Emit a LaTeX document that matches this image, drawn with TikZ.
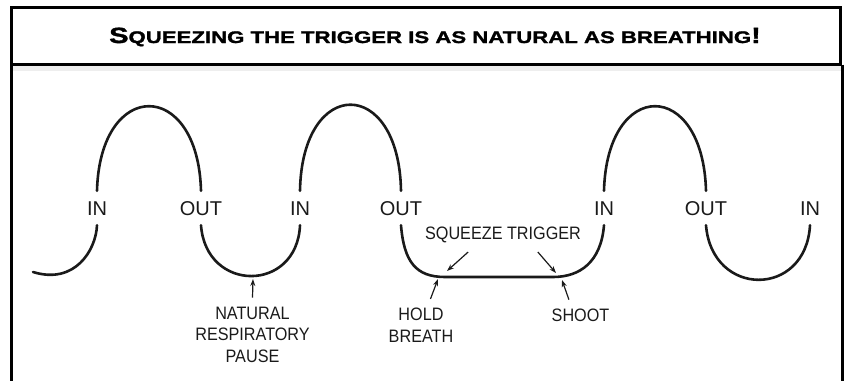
\documentclass[tikz,border=0pt]{standalone}
\usepackage{fontspec}
\setmainfont{Liberation Sans}
\newfontfamily\ttlfont[FakeStretch=1.32,FakeBold=1.6]{Liberation Sans Bold}
\newfontfamily\lblfont[FakeStretch=0.9]{Liberation Sans}
\usetikzlibrary{arrows.meta,positioning}
\definecolor{cInk} {HTML}{1A1A1A}
\definecolor{cRule}{HTML}{000000}
\definecolor{cBand}{HTML}{EEEEEE}
\tikzset{
  frame/.style ={draw=cRule,line width=3pt},
  wave/.style  ={draw=cInk,line width=2.6pt,line cap=round},
  io/.style    ={font=\fontsize{20}{22}\selectfont,text=cInk,inner xsep=1pt,
                 inner ysep=10pt,text height=14.5pt,text depth=0pt},
  note/.style  ={font=\lblfont\fontsize{18}{21.5}\selectfont,text=cInk,
                 align=center,inner xsep=2pt,inner ysep=9pt},
  ptr/.style   ={-{Stealth[length=7pt,width=5pt]},draw=cInk,line width=1.2pt},
}

\begin{document}
\begin{tikzpicture}[x=1pt,y=-1pt,every node/.style={outer sep=0pt}]
\useasboundingbox (0,0) rectangle (847,381);

% header box and the open frame below it
\fill[cBand] (13,66) rectangle (840.5,71);
\draw[frame] (11.5,7.5) rectangle (840.5,64.7);
\draw[frame] (11.5,64.7) -- (11.5,381);
\draw[frame] (842.5,64.7) -- (842.5,381);
\node[anchor=base,font=\ttlfont,text=black] (ttl) at (435,43)
  {{\fontsize{22}{24}\selectfont S}\fontsize{16.8}{20}\selectfont QUEEZING THE TRIGGER IS AS NATURAL AS BREATHING{\fontsize{22}{24}\selectfont !}};

% breath phases
\node[io] (in1)  at (97,208)  {IN};
\node[io] (out1) at (201,208) {OUT};
\node[io] (in2)  at (300,208) {IN};
\node[io] (out2) at (401,208) {OUT};
\node[io] (in3)  at (604,208) {IN};
\node[io] (out3) at (706,208) {OUT};
\node[io] (in4)  at (810,208) {IN};

% the breathing curve, broken at each label
\coordinate (start) at (33,272);
\draw[wave] (start) .. controls (75,285) and (96,250) .. (in1.south);
\draw[wave] (in1.north) .. controls (100,78) and (198,78) .. (out1.north);
\draw[wave] (out1.south) .. controls (206,293) and (297,293) .. (in2.south);
\draw[wave] (in2.north) .. controls (302,76) and (399,76) .. (out2.north);
\draw[wave] (out2.south) .. controls (404,262) and (416,277) .. (445,277)
  -- (553,277) .. controls (580,277) and (601,262) .. (in3.south);
\draw[wave] (in3.north) .. controls (607,78) and (703,78) .. (out3.north);
\draw[wave] (out3.south) .. controls (712,298) and (806,298) .. (in4.south);

% notes under and over the curve
\node[note] (np) at (252.5,334.5) {NATURAL\\RESPIRATORY\\PAUSE};
\node[note] (hb) at (421,325)     {HOLD\\BREATH};
\node[note] (sh) at (580.5,315)   {SHOOT};
\node[note] (sq) at (503,235)     {SQUEEZE TRIGGER};

\coordinate (tipNat)   at (253,279);
\coordinate (tipHold)  at (438,279);
\coordinate (tipShoot) at (562,280);
\coordinate (tipSqL)   at (447,271);
\coordinate (tipSqR)   at (556,273);

\draw[ptr] (np.north) -- (tipNat);
\draw[ptr] (hb.70)    -- (tipHold);
\draw[ptr] (sh.127)   -- (tipShoot);
\draw[ptr] (sq.206)   -- (tipSqL);
\draw[ptr] (sq.334)   -- (tipSqR);
\end{tikzpicture}
\end{document}
